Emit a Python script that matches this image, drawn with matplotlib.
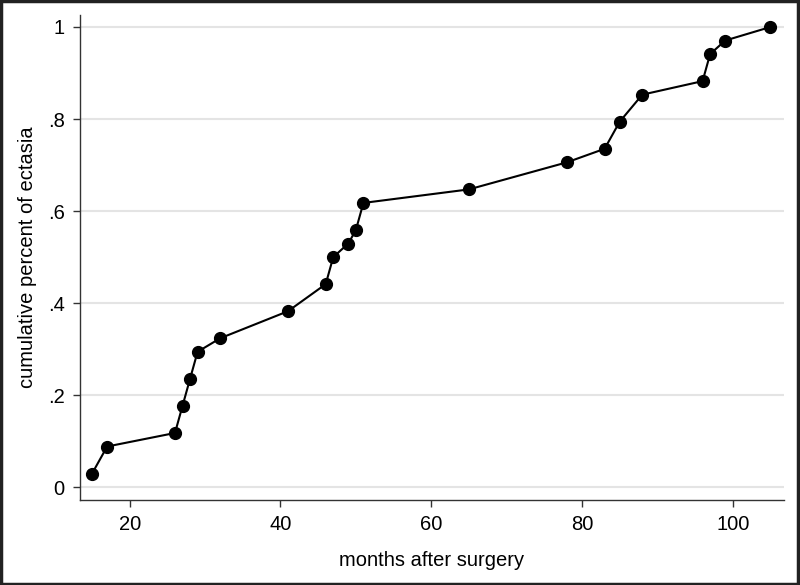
import matplotlib
matplotlib.use("Agg")
import matplotlib.pyplot as plt
from matplotlib.patches import Rectangle

# months after surgery and cumulative share of ectasia cases (k/34)
months = [15, 17, 26, 27, 28, 29, 32, 41, 46, 47, 49, 50, 51, 65, 78, 83, 85, 88, 96, 97, 99, 105]
counts = [1, 3, 4, 6, 8, 10, 11, 13, 15, 17, 18, 19, 21, 22, 24, 25, 27, 29, 30, 32, 33, 34]
total = 34
cum_pct = [c / total for c in counts]

x_ticks = [20, 40, 60, 80, 100]
y_ticks = [0, 0.2, 0.4, 0.6, 0.8, 1.0]
y_labels = ["0", ".2", ".4", ".6", ".8", "1"]

plt.rcParams['font.family'] = ['Liberation Sans', 'DejaVu Sans']

fig = plt.figure(figsize=(8, 5.85), dpi=100)
fig.patch.set_facecolor('white')
ax = fig.add_axes([0.1, 0.1453, 0.88, 0.829])

ax.plot(months, cum_pct, color='black', linewidth=1.5, marker='o',
        markersize=8.5, markerfacecolor='black', markeredgecolor='black', zorder=3)

ax.set_xlim(13.4, 106.8)
ax.set_ylim(-0.028, 1.026)
ax.set_xticks(x_ticks)
ax.set_yticks(y_ticks)
ax.set_yticklabels(y_labels)
ax.tick_params(direction='out', length=5, width=1, colors='#333333', labelsize=14.5,
               labelcolor='black', pad=6)

ax.grid(True, axis='y', color='#e4e4e4', linewidth=1.5)
ax.set_axisbelow(True)
for side in ['top', 'right']:
    ax.spines[side].set_visible(False)
for side in ['left', 'bottom']:
    ax.spines[side].set_color('#333333')
    ax.spines[side].set_linewidth(1)

ax.set_xlabel('months after surgery', fontsize=14.5, labelpad=12)
ax.set_ylabel('cumulative percent of ectasia', fontsize=14.5, labelpad=8)

# dark border around the whole figure
fig.patches.append(Rectangle((0.001, 0.001), 0.997, 0.997, transform=fig.transFigure,
                             fill=False, edgecolor='#222222', linewidth=2.5))

fig.savefig('out.png', dpi=100)
